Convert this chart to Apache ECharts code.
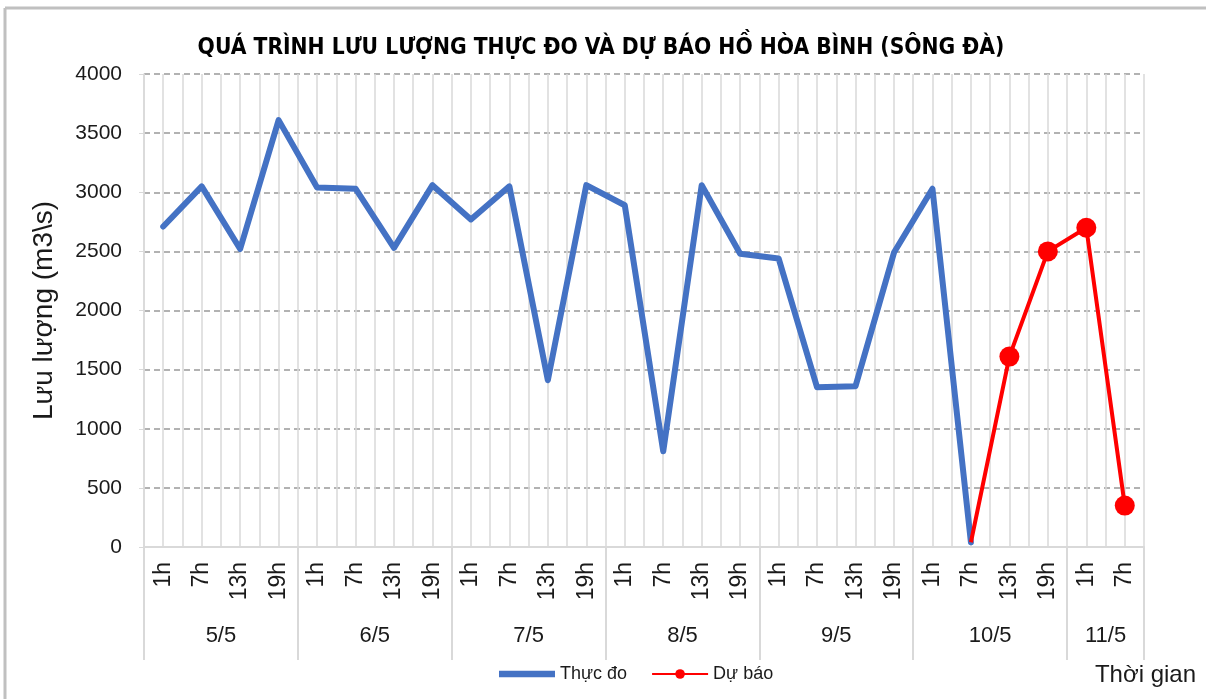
<!DOCTYPE html>
<html>
<head>
<meta charset="utf-8">
<script src="https://cdn.jsdelivr.net/npm/echarts@6/dist/echarts.min.js"></script>
<style>
  html, body { margin: 0; padding: 0; background: #fff; }
  #chart { width: 1206px; height: 699px; }
</style>
</head>
<body>
<div id="chart"></div>
<script>
// giờ trong ngày, các ngày và số giờ mỗi ngày
var hours = ['1h', '7h', '13h', '19h'];
var days = ['5/5', '6/5', '7/5', '8/5', '9/5', '10/5', '11/5'];
var slotsPerDay = [4, 4, 4, 4, 4, 4, 2];

// lưu lượng thực đo (m3/s)
var measured = [2710, 3050, 2520, 3610,
                3040, 3030, 2530, 3060,
                2770, 3050, 1410, 3060,
                2890, 810, 3060, 2480,
                2440, 1350, 1360, 2490,
                3030, 40];
// lưu lượng dự báo, bắt đầu từ 10/5 7h
var forecastStart = 21;
var forecast = [40, 1610, 2500, 2700, 350];

var yTicks = [0, 500, 1000, 1500, 2000, 2500, 3000, 3500, 4000];

// trục x: ghép giờ cho từng ngày
var categories = [];
var dayCenters = [];
var dayBounds = [0];
slotsPerDay.forEach(function (n, d) {
    var start = categories.length;
    for (var i = 0; i < n; i++) categories.push(hours[i]);
    dayCenters.push(start + n / 2);
    dayBounds.push(start + n);
});
var total = categories.length;

var forecastData = categories.map(function () { return null; });
forecast.forEach(function (v, i) {
    forecastData[forecastStart + i] = i === 0 ? { value: v, symbol: 'none' } : v;
});

var font = "'Liberation Sans', Arial, sans-serif";
var textColor = '#1a1a1a';
var myChart = echarts.init(document.getElementById('chart'));

var option = {
    animation: false,
    title: {
        text: 'QUÁ TRÌNH LƯU LƯỢNG THỰC ĐO VÀ DỰ BÁO HỒ HÒA BÌNH (SÔNG ĐÀ)',
        left: 596,
        textAlign: 'center',
        top: 32,
        textStyle: { fontFamily: "'DejaVu Sans Condensed', sans-serif", fontWeight: 'bold', fontSize: 22.6, color: '#000' }
    },
    grid: { left: 144, right: 62, top: 74, bottom: 152 },
    legend: {
        bottom: 11,
        left: 494,
        itemWidth: 56,
        itemHeight: 12,
        itemGap: 24,
        textStyle: { fontFamily: font, fontSize: 18, color: textColor },
        data: [
            { name: 'Thực đo', icon: 'path://M0,0 L50,0 L50,6 L0,6 Z' },
            { name: 'Dự báo' }
        ]
    },
    graphic: [
        {
            type: 'text',
            right: 10,
            top: 663,
            style: { text: 'Thời gian', font: '24px ' + font, fill: textColor }
        },
        // khung viền
        { type: 'line', shape: { x1: 5, y1: 8, x2: 1206, y2: 8 }, style: { stroke: '#c0c0c0', lineWidth: 3 } },
        { type: 'line', shape: { x1: 5, y1: 8, x2: 5, y2: 699 }, style: { stroke: '#c0c0c0', lineWidth: 3 } }
    ],
    xAxis: [
        {
            type: 'category',
            data: categories,
            boundaryGap: true,
            axisLine: { show: true, lineStyle: { color: '#d9d9d9', width: 2 } },
            axisTick: { show: false },
            axisLabel: { rotate: 90, interval: 0, margin: 15, fontFamily: font, fontSize: 23, color: textColor },
            splitLine: { show: false }
        },
        {
            // nhãn ngày
            type: 'value',
            min: 0,
            max: total,
            position: 'bottom',
            axisLine: { show: false },
            axisTick: { show: true, customValues: dayBounds, length: 113, lineStyle: { color: '#d9d9d9', width: 2 } },
            axisLabel: {
                show: true,
                customValues: dayCenters,
                margin: 78,
                fontFamily: font, fontSize: 22, color: textColor,
                formatter: function (v) {
                    var i = dayCenters.indexOf(v);
                    return i >= 0 ? days[i] : '';
                }
            },
            splitLine: { show: false }
        },
        {
            // lưới dọc
            type: 'value',
            min: 0,
            max: total,
            interval: 0.5,
            axisLine: { show: false },
            axisTick: { show: false },
            axisLabel: { show: false },
            splitLine: { show: true, lineStyle: { color: '#d9d9d9', width: 1.5 } }
        }
    ],
    yAxis: {
        type: 'value',
        min: yTicks[0],
        max: yTicks[yTicks.length - 1],
        interval: 500,
        name: 'Lưu lượng (m3\\s)',
        nameLocation: 'middle',
        nameGap: 86,
        nameTextStyle: { fontFamily: font, fontSize: 28, color: textColor },
        axisLine: { show: true, lineStyle: { color: '#d9d9d9', width: 1.5 } },
        axisTick: { show: true, length: 5, lineStyle: { color: '#d9d9d9' } },
        axisLabel: {
            margin: 22, fontFamily: font, fontSize: 21, color: textColor,
            formatter: function (v) { return String(v); }
        },
        splitLine: { show: true, lineStyle: { color: '#999', type: [6, 4], width: 1.5 } }
    },
    series: [
        {
            name: 'Thực đo',
            type: 'line',
            xAxisIndex: 0,
            data: measured,
            symbol: 'none',
            lineStyle: { color: '#4472C4', width: 6, join: 'round', cap: 'round' },
            itemStyle: { color: '#4472C4' },
            z: 3
        },
        {
            name: 'Dự báo',
            type: 'line',
            xAxisIndex: 0,
            data: forecastData,
            symbol: 'circle',
            symbolSize: 20,
            lineStyle: { color: '#FF0000', width: 4 },
            itemStyle: { color: '#FF0000' },
            z: 4
        }
    ]
};

option && myChart.setOption(option);
</script>
</body>
</html>
